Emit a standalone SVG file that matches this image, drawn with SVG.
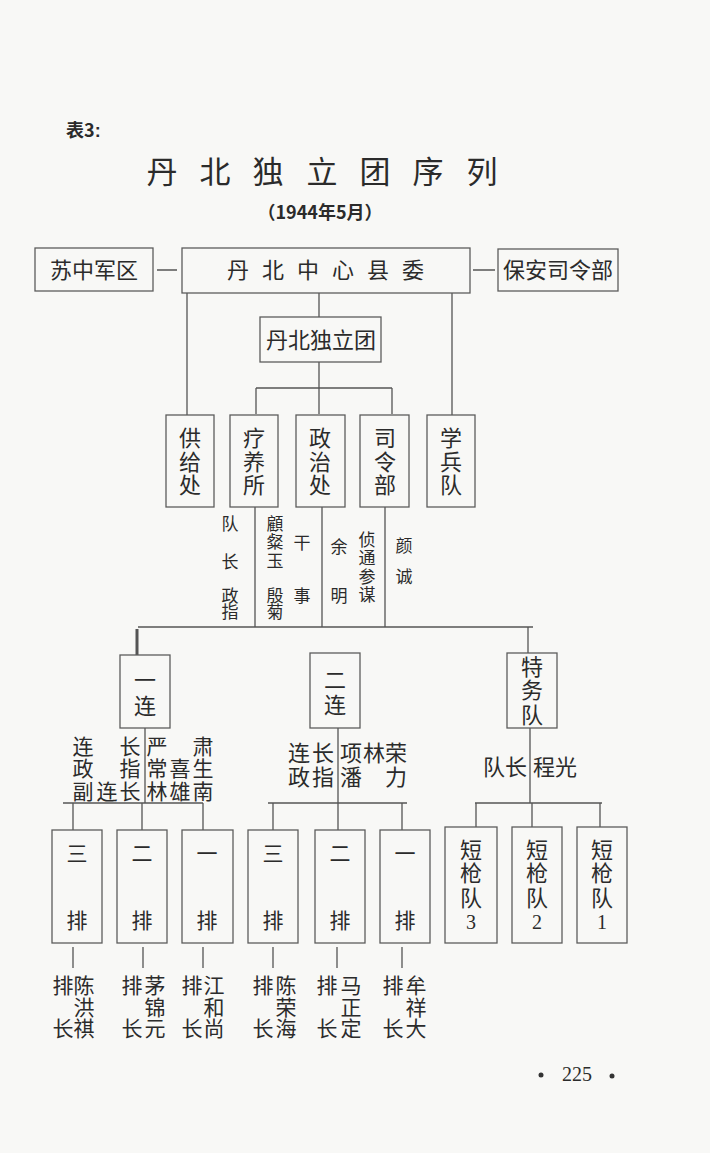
<svg xmlns="http://www.w3.org/2000/svg" width="710" height="1153" viewBox="0 0 710 1153">
<style>
.t{font-family:'Noto Sans CJK SC','Noto Sans CJK TC',sans-serif;fill:#2b2b2b;text-anchor:middle}
.s17{font-size:17px}.s21{font-size:21px}.s22{font-size:22px}
.box{fill:none;stroke:#5c5c5c;stroke-width:1.3}
.ln{stroke:#555;stroke-width:1.3;fill:none}
.num{font-family:'Liberation Serif',serif;fill:#2b2b2b;text-anchor:middle;font-size:20px}
</style>
<rect width="710" height="1153" fill="#f8f8f6"/>

<g id="heading">
<text class="t" x="66" y="137" style="text-anchor:start;font-size:18px;font-weight:bold">表3<tspan font-family="Liberation Sans">:</tspan></text>
<text class="t" x="162 215 268 322 375 428 482" y="183" style="font-size:31px">丹北独立团序列</text>
<text class="t" x="320" y="219" style="font-size:18px;font-weight:bold">（1944年5月）</text>
</g>

<g id="connectors">
<path class="ln" d="M157 270H177M473 270H495"/>
<path class="ln" d="M319 293V317M187 293V415M452 293V415"/>
<path class="ln" d="M319 362V388M256 388H392M256 388V414M319 388V414M392 388V414"/>
<path class="ln" d="M255 507V627M322 507V627M385 507V627M138 627H533"/>
<path d="M137 629V655" stroke="#555" stroke-width="3"/>
<path class="ln" d="M528 627V653"/>
<path class="ln" d="M145 728V803M63 803H203M73 803V830M142 803V830M203 803V830"/>
<path class="ln" d="M338 728V803M268 803H407M273 803V830M338 803V830M402 803V830"/>
<path class="ln" d="M530 728V803M475 803H602M476 803V827M532 803V827M600 803V827"/>
<path class="ln" d="M73 947V968M143 947V968M203 947V968M273 947V968M337 947V968M402 947V968"/>
</g>

<g id="suzhong"><rect class="box" x="35" y="248" width="118" height="43"/><text class="t s22" x="94" y="278">苏中军区</text></g>
<g id="xianwei"><rect class="box" x="182" y="248" width="288" height="45"/><text class="t s22" x="238 273 308 343 378 413" y="278">丹北中心县委</text></g>
<g id="baoan"><rect class="box" x="498" y="249" width="120" height="42"/><text class="t s22" x="558" y="278">保安司令部</text></g>

<g id="tuan"><rect class="box" x="260" y="317" width="121" height="45"/><text class="t s22" x="321" y="348">丹北独立团</text></g>

<g id="gongji"><rect class="box" x="166" y="415" width="48" height="92"/><text class="t s22" x="190 190 190" y="446 470 493">供给处</text></g>
<g id="liaoyang"><rect class="box" x="230" y="415" width="48" height="92"/><text class="t s22" x="254 254 254" y="446 470 493">疗养所</text></g>
<g id="zhengzhi"><rect class="box" x="296" y="415" width="49" height="92"/><text class="t s22" x="320 320 320" y="446 470 493">政治处</text></g>
<g id="siling"><rect class="box" x="360" y="415" width="49" height="92"/><text class="t s22" x="385 385 385" y="446 470 493">司令部</text></g>
<g id="xuebing"><rect class="box" x="427" y="415" width="48" height="92"/><text class="t s22" x="451 451 451" y="446 470 493">学兵队</text></g>

<g id="staff">
<text class="t s17" x="230 230 230 230" y="530 568 602 618">队长政指</text>
<text class="t s17" x="275 275 275 275 275" y="530 548 567 602 618">顧粲玉殷菊</text>
<text class="t s17" x="302 302" y="549 602">干事</text>
<text class="t s17" x="339 339" y="553 602">余明</text>
<text class="t s17" x="367 367 367 367" y="546 564 583 601">侦通参谋</text>
<text class="t s17" x="404 404" y="552 583">颜诚</text>
</g>

<g id="lian1"><rect class="box" x="120" y="655" width="50" height="73"/><text class="t s22" x="145 145" y="688 714">一连</text></g>
<g id="lian2"><rect class="box" x="310" y="653" width="50" height="75"/><text class="t s22" x="335 335" y="688 713">二连</text></g>
<g id="tewu"><rect class="box" x="507" y="653" width="50" height="75"/><text class="t s22" x="532 532 532" y="675 698 723">特务队</text></g>

<g id="lian1-officers">
<text class="t s21" x="83 83 83" y="754 776 799">连政副</text>
<text class="t s21" x="107" y="799">连</text>
<text class="t s21" x="130 130 130" y="754 776 799">长指长</text>
<text class="t s21" x="157 157 157" y="754 776 799">严常林</text>
<text class="t s21" x="180 180" y="776 799">喜雄</text>
<text class="t s21" x="203 203 203" y="754 776 799">肃生南</text>
</g>
<g id="lian2-officers">
<text class="t s22" x="299 299" y="761 785">连政</text>
<text class="t s22" x="323 323" y="761 785">长指</text>
<text class="t s22" x="351 351" y="761 785">项潘</text>
<text class="t s22" x="374" y="761">林</text>
<text class="t s22" x="396 396" y="761 785">荣力</text>
</g>
<g id="tewu-officers">
<text class="t s22" x="527" y="775" style="text-anchor:end">队长</text>
<text class="t s22" x="533" y="775" style="text-anchor:start">程光</text>
</g>

<g id="p13"><rect class="box" x="52" y="830" width="50" height="113"/><text class="t s21" x="77 77" y="861 928">三排</text></g>
<g id="p12"><rect class="box" x="117" y="830" width="50" height="113"/><text class="t s21" x="142 142" y="861 928">二排</text></g>
<g id="p11"><rect class="box" x="182" y="830" width="51" height="113"/><text class="t s21" x="207 207" y="861 928">一排</text></g>
<g id="p23"><rect class="box" x="248" y="830" width="50" height="113"/><text class="t s21" x="273 273" y="861 928">三排</text></g>
<g id="p22"><rect class="box" x="315" y="830" width="50" height="113"/><text class="t s21" x="340 340" y="861 928">二排</text></g>
<g id="p21"><rect class="box" x="380" y="830" width="50" height="113"/><text class="t s21" x="405 405" y="861 928">一排</text></g>

<g id="dq3"><rect class="box" x="445" y="827" width="52" height="116"/><text class="t s22" x="471 471 471" y="858 881 906">短枪队</text><text class="num" x="471" y="929">3</text></g>
<g id="dq2"><rect class="box" x="512" y="827" width="50" height="116"/><text class="t s22" x="537 537 537" y="858 881 906">短枪队</text><text class="num" x="537" y="929">2</text></g>
<g id="dq1"><rect class="box" x="577" y="827" width="50" height="116"/><text class="t s22" x="602 602 602" y="858 881 906">短枪队</text><text class="num" x="602" y="929">1</text></g>

<g id="leaders">
<text class="t s21" x="63 84 84 63 84" y="993 993 1015 1036 1036">排陈洪长祺</text>
<text class="t s21" x="132 155 155 132 155" y="993 993 1015 1036 1036">排茅锦长元</text>
<text class="t s21" x="192 214 214 192 214" y="993 993 1015 1036 1036">排江和长尚</text>
<text class="t s21" x="263 286 286 263 286" y="993 993 1015 1036 1036">排陈荣长海</text>
<text class="t s21" x="327 351 351 327 351" y="993 993 1015 1036 1036">排马正长定</text>
<text class="t s21" x="393 416 416 393 416" y="993 993 1015 1036 1036">排牟祥长大</text>
</g>

<g id="page">
<circle cx="541" cy="1075" r="2.5" fill="#333"/>
<text class="num" x="577" y="1081">225</text>
<circle cx="612" cy="1076" r="2.5" fill="#333"/>
</g>
</svg>
